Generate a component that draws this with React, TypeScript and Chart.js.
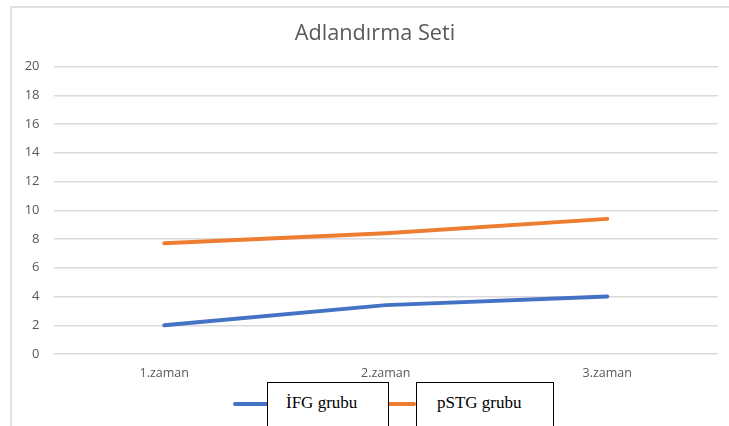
import React, { useEffect, useRef } from "react";
import { Chart, registerables } from "chart.js";

Chart.register(...registerables);

const title = "Adlandırma Seti";
const categories = ["1.zaman", "2.zaman", "3.zaman"];
const ifgValues = [2.0, 3.4, 4.0];
const pstgValues = [7.7, 8.4, 9.4];
const seriesNames = ["İFG grubu", "pSTG grubu"];
const seriesColors = ["#4472C4", "#ED7D31"];
const yTicks = { min: 0, max: 20, step: 2 };

export default function App() {
  const ref = useRef<HTMLCanvasElement | null>(null);

  useEffect(() => {
    if (!ref.current) return;
    const chart = new Chart(ref.current, {
      type: "line",
      data: {
        labels: categories,
        datasets: [
          {
            label: seriesNames[0],
            data: ifgValues,
            borderColor: seriesColors[0],
            backgroundColor: seriesColors[0],
            borderWidth: 4,
            pointRadius: 0,
            tension: 0,
            borderCapStyle: "round",
          },
          {
            label: seriesNames[1],
            data: pstgValues,
            borderColor: seriesColors[1],
            backgroundColor: seriesColors[1],
            borderWidth: 4,
            pointRadius: 0,
            tension: 0,
            borderCapStyle: "round",
          },
        ],
      },
      options: {
        animation: false,
        responsive: false,
        maintainAspectRatio: false,
        layout: { padding: { left: 10, right: 11, top: 66.5, bottom: 0 } },
        plugins: {
          legend: { display: false },
          tooltip: { enabled: false },
          title: { display: false },
        },
        scales: {
          x: {
            offset: true,
            grid: { display: false, drawTicks: false },
            border: { display: false },
            ticks: {
              color: "#595959",
              font: { family: "'Open Sans'", size: 12.5 },
              padding: 12,
              maxRotation: 0,
            },
            afterFit: (s: any) => {
              s.height = 72;
            },
          },
          y: {
            min: yTicks.min,
            max: yTicks.max,
            grid: { color: "#dadada", lineWidth: 1.5, drawTicks: false },
            border: { display: false },
            ticks: {
              stepSize: yTicks.step,
              color: "#595959",
              font: { family: "'Open Sans'", size: 13 },
              padding: 14,
            },
            afterFit: (s: any) => {
              s.width = 43.5;
            },
          },
        },
      },
    });
    return () => chart.destroy();
  }, []);

  const legendLine = (color: string, left: number, width: number) => (
    <div
      style={{
        position: "absolute",
        left,
        top: 402,
        width,
        height: 4,
        borderRadius: 2,
        background: color,
      }}
    />
  );

  const legendBox = (text: string, left: number, width: number, textLeft: number) => (
    <div
      style={{
        position: "absolute",
        left,
        top: 382,
        width,
        height: 60,
        border: "1px solid #000",
        background: "#fff",
        boxSizing: "border-box",
        fontFamily: "'Liberation Serif', 'Times New Roman', serif",
        fontSize: 17,
        color: "#000",
      }}
    >
      <span style={{ position: "absolute", left: textLeft, top: 10, whiteSpace: "nowrap" }}>{text}</span>
    </div>
  );

  return (
    <div
      style={{
        position: "fixed",
        left: 0,
        top: 0,
        width: 729,
        height: 426,
        overflow: "hidden",
        background: "#fff",
      }}
    >
      <div
        style={{
          position: "absolute",
          left: 10,
          top: 6,
          width: 740,
          height: 440,
          border: "2px solid #e0e0e0",
          boxSizing: "border-box",
        }}
      />
      <canvas ref={ref} width={729} height={426} style={{ position: "absolute", left: 0, top: 0 }} />
      <div
        style={{
          position: "absolute",
          left: 0,
          top: 19,
          width: 750,
          textAlign: "center",
          fontFamily: "'Open Sans'",
          fontSize: 21.7,
          lineHeight: "26px",
          color: "#595959",
          whiteSpace: "nowrap",
        }}
      >
        {title}
      </div>
      {legendLine(seriesColors[0], 233, 40)}
      {legendLine(seriesColors[1], 380, 36)}
      {legendBox(seriesNames[0], 267, 122, 18)}
      {legendBox(seriesNames[1], 416, 138, 20)}
    </div>
  );
}
